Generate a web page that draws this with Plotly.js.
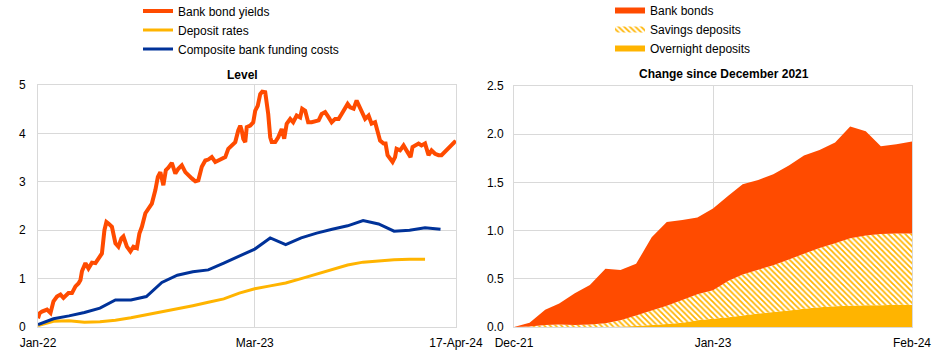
<!DOCTYPE html>
<html>
<head>
<meta charset="utf-8">
<script src="https://cdn.plot.ly/plotly-3.0.1.min.js"></script>
<style>html,body{margin:0;padding:0;background:#fff;}#chart{width:945px;height:354px;}</style>
</head>
<body>
<div id="chart"></div>
<script>
// ---- Left panel: Level ----
const bondDates = ['2022-01-01','2022-01-04','2022-01-09','2022-01-19','2022-01-26','2022-02-01','2022-02-08','2022-02-15','2022-02-21','2022-03-03','2022-03-10','2022-03-17','2022-03-23','2022-03-27','2022-03-30','2022-04-06','2022-04-12','2022-04-19','2022-04-26','2022-05-02','2022-05-09','2022-05-14','2022-05-18','2022-05-22','2022-05-29','2022-06-05','2022-06-11','2022-06-17','2022-06-21','2022-06-28','2022-07-05','2022-07-11','2022-07-18','2022-07-23','2022-07-28','2022-08-04','2022-08-10','2022-08-17','2022-08-24','2022-08-29','2022-09-03','2022-09-09','2022-09-14','2022-09-19','2022-09-26','2022-10-03','2022-10-09','2022-10-16','2022-10-23','2022-10-29','2022-11-05','2022-11-12','2022-11-18','2022-11-25','2022-12-02','2022-12-08','2022-12-15','2022-12-22','2022-12-28','2023-01-04','2023-01-11','2023-01-17','2023-01-24','2023-01-31','2023-02-06','2023-02-10','2023-02-13','2023-02-16','2023-02-20','2023-02-23','2023-03-02','2023-03-08','2023-03-12','2023-03-17','2023-03-22','2023-03-26','2023-04-01','2023-04-04','2023-04-07','2023-04-11','2023-04-14','2023-04-21','2023-04-27','2023-05-04','2023-05-09','2023-05-14','2023-05-21','2023-05-27','2023-06-03','2023-06-10','2023-06-14','2023-06-20','2023-06-26','2023-07-03','2023-07-10','2023-07-17','2023-07-23','2023-07-30','2023-08-06','2023-08-12','2023-08-19','2023-08-26','2023-09-01','2023-09-08','2023-09-13','2023-09-18','2023-09-25','2023-10-01','2023-10-08','2023-10-15','2023-10-18','2023-10-25','2023-10-31','2023-11-07','2023-11-12','2023-11-17','2023-11-24','2023-11-28','2023-12-02','2023-12-07','2023-12-12','2023-12-17','2023-12-20','2023-12-27','2024-01-03','2024-01-07','2024-01-13','2024-01-17','2024-01-21','2024-01-26','2024-02-02','2024-02-08','2024-02-15','2024-02-22','2024-02-28','2024-03-06','2024-03-13','2024-03-19','2024-03-26','2024-04-02','2024-04-08','2024-04-14','2024-04-17'];
const bondYields = [0.18,0.28,0.32,0.36,0.29,0.53,0.63,0.67,0.60,0.70,0.70,0.84,0.90,0.97,1.15,1.32,1.21,1.33,1.32,1.42,1.52,2.00,2.17,2.14,2.07,1.73,1.66,1.83,1.87,1.66,1.56,1.66,1.63,1.93,2.07,2.35,2.45,2.55,2.83,3.10,3.20,2.93,3.24,3.29,3.39,3.17,3.27,3.34,3.20,3.13,3.07,3.01,3.03,3.31,3.44,3.46,3.51,3.41,3.44,3.46,3.51,3.68,3.75,3.82,4.06,4.16,4.06,3.89,3.82,4.13,4.16,4.23,4.47,4.57,4.81,4.86,4.85,4.68,4.40,3.92,3.82,3.82,3.92,4.09,3.89,4.20,4.30,4.23,4.37,4.33,4.51,4.47,4.23,4.23,4.25,4.27,4.40,4.44,4.33,4.23,4.30,4.30,4.40,4.51,4.61,4.54,4.51,4.68,4.54,4.40,4.30,4.37,4.20,4.23,4.03,3.85,3.79,3.79,3.55,3.48,3.41,3.51,3.68,3.65,3.75,3.68,3.58,3.51,3.72,3.75,3.79,3.75,3.79,3.55,3.65,3.58,3.55,3.55,3.62,3.68,3.75,3.82,3.80];

const monthlyDates = ['2022-01-01','2022-02-01','2022-03-04','2022-04-04','2022-05-05','2022-06-05','2022-07-06','2022-08-06','2022-09-06','2022-10-07','2022-11-07','2022-12-08','2023-01-08','2023-02-08','2023-03-11','2023-04-11','2023-05-12','2023-06-12','2023-07-13','2023-08-13','2023-09-13','2023-10-14','2023-11-14','2023-12-15','2024-01-15','2024-02-15','2024-03-17'];
const depositRates = [0.03,0.12,0.13,0.10,0.11,0.14,0.19,0.25,0.31,0.37,0.44,0.51,0.58,0.70,0.79,0.85,0.91,1.00,1.09,1.19,1.28,1.34,1.37,1.39,1.40,1.40];
const compositeCosts = [0.05,0.17,0.23,0.30,0.39,0.56,0.56,0.63,0.92,1.07,1.14,1.18,1.32,1.46,1.61,1.84,1.70,1.84,1.94,2.02,2.09,2.20,2.13,1.98,2.00,2.05,2.02];

const leftTickDates = ['2022-01-01','2023-03-11','2024-04-17'];
const leftTickLabels = ['Jan-22','Mar-23','17-Apr-24'];

// ---- Right panel: Change since December 2021 ----
const rightDates = ['2021-12-01','2022-01-01','2022-02-01','2022-03-01','2022-04-01','2022-05-01','2022-06-01','2022-07-01','2022-08-01','2022-09-01','2022-10-01','2022-11-01','2022-12-01','2023-01-01','2023-02-01','2023-03-01','2023-04-01','2023-05-01','2023-06-01','2023-07-01','2023-08-01','2023-09-01','2023-10-01','2023-11-01','2023-12-01','2024-01-01','2024-02-01'];
const overnightDeposits = [0,0,0,0,0,0,0,0.005,0.01,0.02,0.03,0.045,0.07,0.085,0.10,0.12,0.14,0.155,0.17,0.19,0.205,0.215,0.22,0.225,0.225,0.23,0.23];
const savingsDeposits = [0,0.005,0.02,0.025,0.02,0.025,0.04,0.065,0.11,0.15,0.19,0.235,0.27,0.295,0.38,0.425,0.455,0.485,0.53,0.57,0.615,0.655,0.70,0.725,0.74,0.74,0.74];
const bankBonds = [0,0.04,0.16,0.22,0.33,0.41,0.565,0.52,0.535,0.76,0.87,0.83,0.795,0.85,0.885,0.935,0.93,0.945,0.975,1.02,1.015,1.045,1.16,1.08,0.91,0.925,0.955];

const rightTickDates = ['2021-12-01','2023-01-01','2024-02-01'];
const rightTickLabels = ['Dec-21','Jan-23','Feb-24'];

const ORANGE = '#FF4B00', YELLOW = '#FFB400', BLUE = '#003299';
const FONT = '"Liberation Sans", Arial, sans-serif';

const traces = [
  {x: bondDates, y: bondYields, name: 'Bank bond yields', type: 'scatter', mode: 'lines',
   line: {color: ORANGE, width: 4}, xaxis: 'x', yaxis: 'y', legend: 'legend'},
  {x: monthlyDates.slice(0, depositRates.length), y: depositRates, name: 'Deposit rates', type: 'scatter', mode: 'lines',
   line: {color: YELLOW, width: 3}, xaxis: 'x', yaxis: 'y', legend: 'legend'},
  {x: monthlyDates, y: compositeCosts, name: 'Composite bank funding costs', type: 'scatter', mode: 'lines',
   line: {color: BLUE, width: 3}, xaxis: 'x', yaxis: 'y', legend: 'legend'},
  {x: rightDates, y: overnightDeposits, name: 'Overnight deposits', type: 'scatter', mode: 'none',
   stackgroup: 'dep', fillcolor: YELLOW, xaxis: 'x2', yaxis: 'y2', legend: 'legend2'},
  {x: rightDates, y: savingsDeposits, name: 'Savings deposits', type: 'scatter', mode: 'none',
   stackgroup: 'dep', fillcolor: '#ffffff',
   fillpattern: {shape: '\\', fgcolor: YELLOW, bgcolor: '#ffffff', size: 4, solidity: 0.45},
   xaxis: 'x2', yaxis: 'y2', legend: 'legend2'},
  {x: rightDates, y: bankBonds, name: 'Bank bonds', type: 'scatter', mode: 'none',
   stackgroup: 'dep', fillcolor: ORANGE, xaxis: 'x2', yaxis: 'y2', legend: 'legend2'}
];

const gridC = '#d9d9d9';
const axCommon = {showgrid: true, gridcolor: gridC, gridwidth: 1, showline: true, mirror: true,
  linecolor: gridC, linewidth: 1, zeroline: false, fixedrange: true, automargin: false,
  tickfont: {family: FONT, size: 12, color: '#000'}};

const layout = {
  width: 945, height: 354,
  margin: {l: 0, r: 0, t: 0, b: 0, autoexpand: false},
  paper_bgcolor: '#ffffff', plot_bgcolor: '#ffffff',
  font: {family: FONT, size: 12, color: '#000'},
  showlegend: true,
  xaxis: Object.assign({}, axCommon, {domain: [38/945, 456/945], anchor: 'y', type: 'date',
    range: ['2022-01-01', '2024-04-17'], tickmode: 'array', tickvals: leftTickDates, ticktext: leftTickLabels,
    ticks: 'outside', ticklen: 5, tickcolor: 'rgba(0,0,0,0)'}),
  yaxis: Object.assign({}, axCommon, {domain: [1 - 327/354, 1 - 85/354], anchor: 'x',
    range: [0, 5], dtick: 1, tick0: 0, ticks: 'outside', ticklen: 9, tickcolor: 'rgba(0,0,0,0)'}),
  xaxis2: Object.assign({}, axCommon, {domain: [514/945, 912/945], anchor: 'y2', type: 'date',
    range: ['2021-12-01', '2024-02-01'], tickmode: 'array', tickvals: rightTickDates, ticktext: rightTickLabels,
    ticks: 'outside', ticklen: 5, tickcolor: 'rgba(0,0,0,0)'}),
  yaxis2: Object.assign({}, axCommon, {domain: [1 - 327/354, 1 - 86/354], anchor: 'x2',
    range: [0, 2.5], dtick: 0.5, tick0: 0, tickformat: '.1f', ticks: 'outside', ticklen: 7, tickcolor: 'rgba(0,0,0,0)'}),
  legend: {x: 138/945, y: 1 + 3.5/354, xanchor: 'left', yanchor: 'top', bgcolor: 'rgba(0,0,0,0)',
    font: {family: FONT, size: 12, color: '#000'}, traceorder: 'normal', tracegroupgap: 0},
  legend2: {x: 610/945, y: 1 + 4/354, xanchor: 'left', yanchor: 'top', bgcolor: 'rgba(0,0,0,0)',
    font: {family: FONT, size: 12, color: '#000'}, traceorder: 'reversed', tracegroupgap: 0},
  annotations: [
    {text: '<b>Level</b>', xref: 'paper', yref: 'paper', x: 243/945, y: 1 - 75/354,
     xanchor: 'center', yanchor: 'middle', showarrow: false, font: {family: FONT, size: 12, color: '#000'}},
    {text: '<b>Change since December 2021</b>', xref: 'paper', yref: 'paper', x: 724/945, y: 1 - 74/354,
     xanchor: 'center', yanchor: 'middle', showarrow: false, font: {family: FONT, size: 12, color: '#000'}}
  ]
};

Plotly.newPlot('chart', traces, layout, {displayModeBar: false, staticPlot: true});
</script>
</body>
</html>
